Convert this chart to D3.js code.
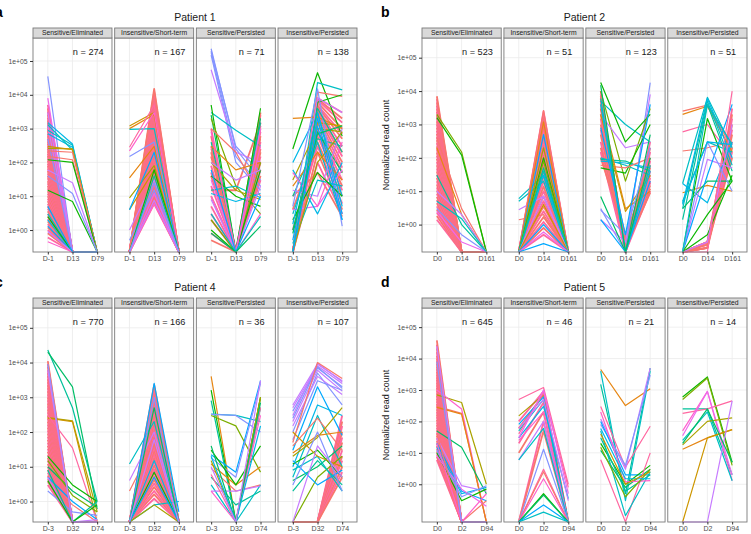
<!DOCTYPE html>
<html>
<head>
<meta charset="utf-8">
<script src="https://cdn.jsdelivr.net/npm/d3@7"></script>
<style>
  body { margin: 0; background: #fff; }
  svg { font-family: "Liberation Sans", Arial, Helvetica, sans-serif; }
</style>
</head>
<body>
<div id="chart"></div>
<script>
// ---- chart values ----
var patients = ["Patient 1", "Patient 2", "Patient 4", "Patient 5"];
var letters = ["a", "b", "c", "d"];
var groups = ["Sensitive/Eliminated", "Insensitive/Short-term", "Sensitive/Persisted", "Insensitive/Persisted"];
var timepoints = [["D-1", "D13", "D79"], ["D0", "D14", "D161"], ["D-3", "D32", "D74"], ["D0", "D2", "D94"]];
var counts = [[274, 167, 71, 138], [523, 51, 123, 51], [770, 166, 36, 107], [645, 46, 21, 14]];
var yTicks = [1, 10, 100, 1000, 10000, 100000];
// y limits of each patient's panels (zero counts sit on the lower limit)
var yLimits = [[0.224, 478600], [0.151, 389000], [0.257, 371500], [0.063, 407000]];

// clone lines: [clone colour group, t1, t2, t3]
var p1_se = [
  [11, 35000, 0, 0], [13, 8000, 0, 0], [12, 3000, 0, 0], [12, 1200, 0, 0], [11, 500, 0, 0],
  [9, 1500, 350, 0], [8, 900, 320, 0], [9, 700, 280, 0], [8, 1300, 230, 0], [3, 260, 250, 0],
  [2, 300, 240, 0], [0, 220, 200, 0], [0, 150, 120, 0], [5, 120, 100, 0], [12, 60, 25, 0],
  [5, 15, 7, 0], [11, 40, 12, 0], [9, 2, 0, 0], [10, 1.3, 0, 0], [8, 3, 0, 0],
  [5, 2.5, 0, 0], [12, 0.9, 0, 0], [14, 0.45, 0, 0], [10, 5, 0, 0]
];
var p1_se_bulk = [0.6, 0.8, 1, 1.2, 1.5, 1.8, 2.1, 2.5, 3, 3.6, 4.3, 5, 6, 7.2, 8.5, 10, 12, 14, 17, 20, 24, 28,
  34, 40, 47, 56, 66, 78, 92, 110, 130, 155, 180, 215, 255, 300, 360, 420, 500, 600, 700, 850, 1000, 1200,
  1450, 1750, 2100, 2600, 3200, 4000, 5000];

var p1_is = [
  [2, 1200, 3000, 0], [1, 1000, 2600, 0], [8, 950, 1000, 0], [15, 280, 5000, 0], [14, 220, 3000, 0],
  [11, 150, 400, 0], [1, 35, 300, 0], [3, 9, 80, 0], [2, 4, 60, 0], [10, 4, 200, 0],
  [12, 1, 30, 0], [11, 0.5, 15, 0], [5, 0, 60, 0], [7, 0, 40, 0], [13, 0, 12, 0],
  [14, 0, 6, 0], [12, 0, 7.5, 0], [11, 0, 25, 0]
];
var p1_is_bulk = [6, 7, 8.5, 10, 12, 14, 17, 20, 24, 29, 35, 42, 50, 60, 72, 86, 100, 120, 145, 175, 210, 250,
  300, 360, 430, 520, 620, 750, 900, 1080, 1300, 1550, 1850, 2200, 2700, 3200, 3900, 4700, 5600, 6800,
  8200, 10000, 12500, 15000];

var p1_sp = [
  [11, 230000, 250, 30], [11, 200000, 300, 50], [11, 180000, 150, 20], [11, 150000, 100, 15],
  [12, 55000, 200, 100], [8, 3000, 900, 300], [5, 5000, 0, 4000], [6, 2500, 0, 2000], [4, 2000, 20, 3],
  [7, 400, 0, 1500], [0, 1000, 200, 10], [1, 300, 60, 100], [0, 250, 0, 500], [3, 100, 15, 8],
  [5, 40, 10, 5], [8, 15, 20, 9], [9, 12, 7, 12], [14, 10, 0, 3], [12, 8, 0, 20], [4, 2, 0, 100],
  [5, 1, 0, 60], [13, 30, 0, 1000], [14, 800, 0, 300], [12, 100, 30, 60], [10, 60, 0, 10],
  [8, 3, 0, 2.5], [6, 0.8, 0, 1.3]
];
var p1_sp_bulk = [[1000, 0, 1500], [600, 0, 1000], [300, 0, 800], [150, 0, 600], [80, 0, 400], [40, 0, 250],
  [20, 0, 150], [10, 0, 100], [5, 0, 60], [2, 0, 40], [0.8, 0, 30], [0.5, 0, 200], [3, 0, 2500],
  [200, 0, 3000], [50, 0, 1200], [15, 15, 1500]];

var p1_ip = [
  [5, 250, 45000, 600], [8, 0, 23000, 14000], [0, 0, 12000, 9000], [5, 0, 6000, 10000],
  [1, 2000, 2200, 1000], [2, 0, 1500, 1200], [3, 30, 1000, 800], [9, 100, 3000, 10], [10, 0.5, 2000, 3],
  [8, 3, 400, 2], [7, 10, 500, 300], [6, 1, 800, 50], [1, 20, 200, 30], [12, 15, 10, 1000],
  [11, 5, 15000, 1.3], [13, 4, 5, 60], [8, 0.4, 30, 20], [9, 60, 3, 100], [14, 50, 5, 400],
  [3, 0, 100, 800], [5, 2, 50, 10], [12, 0, 8000, 3000], [9, 1.5, 3000, 5], [7, 0, 4000, 200],
  [6, 0.8, 700, 1200], [10, 0, 1200, 2]
];
var p1_ip_bulk = [[0, 8000, 3000], [0, 7500, 2000], [0, 7000, 1500], [0, 6000, 1000], [0, 5000, 700],
  [0, 4500, 500], [0, 4000, 300], [0, 3500, 200], [0, 3000, 150], [0, 2500, 100], [0, 2000, 70],
  [0, 1500, 50], [0, 1000, 30], [0, 800, 20], [0, 600, 15], [4, 400, 10], [1, 300, 6], [0, 200, 4],
  [0, 100, 3], [10, 50, 2.5]];

var p2_se = [
  [4, 2000, 150, 0], [5, 1600, 120, 0], [0, 400, 3, 0], [1, 200, 2, 0], [7, 30, 1, 0],
  [12, 10, 2, 0], [11, 3, 0.5, 0], [13, 2.5, 0.3, 0], [8, 5, 1.5, 0]
];
var p2_se_bulk = [1.4, 1.8, 2.3, 2.8, 3.5, 4.4, 5.5, 6.8, 8.5, 10.5, 13, 16, 20, 25, 31, 39, 48, 60, 75, 93,
  115, 145, 180, 220, 275, 340, 420, 520, 650, 800, 1000, 1250, 1550, 1900, 2400, 3000, 3700, 4600,
  5700, 7000];

var p2_is = [
  [8, 5, 20, 0], [8, 6, 30, 0], [12, 2.8, 7, 0], [0, 1.4, 2, 0], [0, 0, 2600, 0], [1, 0, 1200, 0],
  [10, 0, 500, 0], [3, 0, 200, 0], [5, 0, 100, 0], [4, 0, 80, 0], [8, 0, 40, 0], [9, 0, 30, 0],
  [7, 0, 50, 0], [12, 0, 7, 0], [2, 0, 4, 0], [10, 0, 1, 0], [13, 0, 0.6, 0], [10, 0, 0.27, 0]
];
var p2_is_bulk = [0.5, 0.8, 1.2, 1.7, 2.5, 3.5, 5, 7, 10, 14, 20, 28, 40, 60, 85, 120, 170, 240, 340, 480,
  680, 950, 1350, 1900, 2500];

var p2_sp = [
  [11, 3, 0, 18000], [12, 1.4, 0.3, 8000], [8, 5000, 1000, 300], [5, 18000, 300, 2000],
  [4, 10000, 20, 3000], [12, 2000, 200, 300], [7, 90, 80, 40], [8, 100, 60, 30], [9, 80, 70, 50],
  [5, 50, 35, 1000], [0, 60, 50, 100], [1, 3000, 3, 10], [2, 2000, 2.5, 30], [6, 7, 0, 500],
  [10, 1.4, 0, 20], [8, 6000, 0, 60], [9, 4000, 0, 40], [11, 2.7, 0.5, 200], [6, 15000, 0, 100],
  [10, 800, 0.5, 4000]
];
var p2_sp_bulk = [[8000, 0, 300], [6000, 0.2, 200], [5000, 0, 150], [4000, 0.3, 100], [3000, 0, 80],
  [2000, 0.2, 60], [1500, 0, 40], [1000, 0.4, 30], [700, 0, 20], [500, 0.2, 15], [300, 0, 10],
  [200, 0.3, 12], [150, 0, 25], [100, 0.5, 50], [10000, 0, 18], [7000, 0.2, 9]];

var p2_ip = [
  [0, 2500, 3800, 200], [1, 2000, 3500, 150], [15, 600, 1000, 100], [0, 160, 200, 300], [1, 9, 15, 10],
  [8, 17, 6500, 200], [9, 4, 6000, 100], [8, 3, 5000, 60], [7, 1.4, 4000, 40], [8, 5, 300, 150],
  [9, 17, 4.5, 300], [5, 0, 1500, 20], [12, 0, 90, 50], [6, 3, 20, 20], [5, 0, 0.5, 30],
  [12, 0, 0.3, 1000], [10, 0, 30, 4000], [15, 0, 0, 10000], [11, 0, 300, 10], [5, 0, 2, 20],
  [8, 0, 4000, 250], [9, 4.5, 300, 250]
];
var p2_ip_bulk = [[0, 0.2, 3000], [0, 0.3, 2000], [0, 0.2, 1500], [0, 0.3, 1000], [0, 0.25, 700],
  [0, 0.2, 500], [0, 0.3, 300], [0, 0.2, 200], [0, 0.3, 150], [0, 0.25, 100]];

var p4_se = [
  [7, 23000, 500, 1], [6, 20000, 2000, 0.6], [3, 260, 210, 0.5], [2, 250, 200, 0], [15, 300, 35, 0],
  [5, 20, 3, 1], [6, 10, 2, 0.7], [4, 15, 1.5, 0.5], [10, 5, 1, 0.3], [11, 2, 0.5, 0.4],
  [0, 3.5, 0.8, 0], [12, 5, 0, 0.3], [7, 8, 0, 1], [5, 4, 0, 0.8], [11, 9000, 0, 0], [12, 6000, 0, 0]
];
var p4_se_bulk = [3, 3.8, 4.6, 5.6, 6.8, 8.2, 10, 12, 15, 18, 22, 27, 33, 40, 49, 60, 73, 90, 110, 135, 165,
  200, 245, 300, 370, 450, 550, 670, 820, 1000, 1220, 1500, 1830, 2240, 2740, 3350, 4100, 5000, 6100,
  7500, 9100, 11000];

var p4_is = [
  [8, 12, 200, 0], [12, 4, 100, 0], [0, 2, 50, 0], [8, 0, 0.8, 1], [3, 0, 0.8, 0], [10, 0, 2500, 0.5],
  [11, 0, 1000, 0], [6, 0, 500, 0], [5, 0, 7, 0], [10, 0, 5, 0], [9, 0, 15, 0], [12, 0, 60, 0]
];
var p4_is_bulk = [1.2, 1.6, 2, 2.6, 3.3, 4.2, 5.3, 6.7, 8.5, 11, 14, 18, 23, 29, 37, 47, 60, 76, 97, 125, 160,
  200, 260, 330, 420, 540, 690, 880, 1100, 1400, 1800, 2300];

var p4_sp = [
  [1, 4000, 0, 1000], [5, 1600, 0, 1000], [7, 800, 0, 500], [8, 330, 300, 200], [11, 320, 300, 100],
  [4, 300, 150, 7], [10, 22, 7, 3000], [11, 18, 5, 2500], [1, 12, 3, 10], [0, 9, 2, 3], [5, 30, 3, 40],
  [7, 5, 0.8, 2], [8, 3, 0, 3], [12, 2, 2, 2.8], [15, 6, 0, 500], [14, 2, 0, 300], [3, 15, 0, 1000],
  [6, 40, 0, 700], [9, 20, 0, 150], [12, 10, 0, 3000]
];
var p4_sp_bulk = [];

var p4_ip = [
  [12, 600, 9000, 3000], [12, 500, 8000, 2500], [11, 400, 7000, 2000], [12, 200, 6000, 1500],
  [11, 100, 5000, 600], [12, 300, 9500, 2800], [11, 250, 7500, 1800], [12, 150, 4000, 1200],
  [11, 60, 3000, 1600], [0, 50, 10000, 3500], [10, 30, 2000, 80], [9, 10, 600, 300], [8, 5, 300, 10],
  [0, 40, 250, 30], [1, 25, 80, 100], [3, 20, 70, 500], [5, 12, 30, 5], [6, 4, 10, 40], [7, 2, 15, 3],
  [4, 0, 5, 20], [10, 15, 3, 8], [8, 8, 20, 2], [2, 100, 20, 10], [12, 0, 40, 5], [11, 3, 100, 2]
];
var p4_ip_bulk = [[0, 0, 300], [0, 0, 200], [0, 0, 150], [0, 0, 100], [0, 0, 70], [0, 0, 50], [0, 0, 30],
  [0, 0, 20], [0, 0, 15], [0, 0, 10], [0, 0, 7], [0, 0, 5]];

var p5_se = [
  [3, 700, 400, 1], [14, 1000, 250, 0], [0, 300, 180, 0], [1, 280, 170, 0], [6, 50, 15, 0.5],
  [12, 30, 0.9, 0.6], [10, 20, 0.6, 0.3], [9, 15, 0.5, 0.8], [5, 10, 0.3, 0.7], [13, 8, 0.7, 0.2],
  [11, 12, 0.4, 0.9], [0, 40, 0, 0.3], [14, 20, 0, 0.5], [12, 25000, 0, 0], [11, 8000, 0, 0]
];
var p5_se_bulk = [6, 7.5, 9, 11, 13.5, 16.5, 20, 24, 29, 35, 43, 52, 63, 77, 93, 113, 137, 167, 200, 245, 300,
  360, 440, 530, 650, 790, 960, 1170, 1420, 1730, 2100, 2550, 3100, 3800, 4600, 5600, 6800, 8300, 10000,
  12500, 16000, 21000, 28000, 38000];

var p5_is = [
  [15, 500, 1200, 1], [3, 150, 700, 0], [10, 80, 600, 0], [8, 50, 500, 0], [9, 30, 300, 0.35],
  [14, 25, 200, 0], [12, 6, 100, 0], [8, 6, 60, 0], [11, 0, 13, 0], [15, 0, 3, 0], [0, 0, 2.5, 0],
  [14, 0, 1.5, 0], [5, 0, 0.5, 0], [6, 0, 0.45, 0], [10, 0, 0.22, 0], [8, 0, 0.13, 0],
  [15, 40, 800, 0.8], [13, 30, 1000, 0.5], [12, 60, 500, 0.3]
];
var p5_is_bulk = [[100, 900, 0], [60, 700, 0], [20, 400, 0], [10, 200, 0], [0, 100, 0], [0, 50, 0]];

var p5_sp = [
  [1, 4500, 320, 1100], [7, 1500, 0.5, 5000], [8, 4000, 0.3, 4000], [15, 300, 3.5, 70],
  [12, 120, 3, 5000], [11, 80, 4, 3000], [10, 100, 2, 2], [5, 20, 1, 4], [6, 12, 0.8, 3], [15, 6, 0, 10],
  [8, 50, 0.1, 2.5], [7, 30, 0.6, 2], [14, 200, 1.2, 1.3], [4, 15, 0.4, 3], [9, 60, 1.5, 1.5],
  [2, 40, 1, 2.5]
];
var p5_sp_bulk = [];

var p5_ip = [
  [5, 600, 2600, 5], [4, 500, 2400, 4], [7, 250, 250, 2], [15, 180, 250, 450], [14, 50, 900, 1.3],
  [13, 35, 900, 2], [8, 25, 200, 1.3], [3, 18, 100, 130], [1, 13, 30, 55], [2, 0, 30, 55],
  [12, 0, 0, 450], [6, 20, 250, 5]
];
var p5_ip_bulk = [];

// ---- build the facet tables ----
// bulk rows are the dense pink masses; flagged so they can be drawn a bit heavier
var pinks = [15, 0];
function bulkAt(vals, pos) {
  return vals.map(function(v, i) {
    var row = [pinks[i % 2], 0, 0, 0];
    row[pos + 1] = v;
    row.bulk = true;
    return row;
  });
}
function bulkRows(rows) {
  return rows.map(function(r, i) {
    var row = [pinks[i % 2]].concat(r);
    row.bulk = true;
    return row;
  });
}

var facets = [
  [bulkAt(p1_se_bulk, 0).concat(p1_se), bulkAt(p1_is_bulk, 1).concat(p1_is),
   bulkRows(p1_sp_bulk).concat(p1_sp), bulkRows(p1_ip_bulk).concat(p1_ip)],
  [bulkAt(p2_se_bulk, 0).concat(p2_se), bulkAt(p2_is_bulk, 1).concat(p2_is),
   bulkRows(p2_sp_bulk).concat(p2_sp), bulkRows(p2_ip_bulk).concat(p2_ip)],
  [bulkAt(p4_se_bulk, 0).concat(p4_se), bulkAt(p4_is_bulk, 1).concat(p4_is),
   bulkRows(p4_sp_bulk).concat(p4_sp), bulkRows(p4_ip_bulk).concat(p4_ip)],
  [bulkAt(p5_se_bulk, 0).concat(p5_se), bulkRows(p5_is_bulk).concat(p5_is),
   bulkRows(p5_sp_bulk).concat(p5_sp), bulkRows(p5_ip_bulk).concat(p5_ip)]
];

// ggplot hue palette
var palette = ["#F8766D", "#E68613", "#CD9600", "#ABA300", "#7CAE00", "#0CB702", "#00BE67", "#00C19A",
  "#00BFC4", "#00B8E7", "#00A9FF", "#8494FF", "#C77CFF", "#ED68ED", "#FF61CC", "#FF68A1"];
var colour = d3.scaleOrdinal().domain(d3.range(16)).range(palette);

// ---- layout ----
var width = 751, height = 534;
var cols = [{ x0: 33, x1: 357 }, { x0: 422, x1: 747 }];
var rows = [{ top: 28, bottom: 252 }, { top: 298, bottom: 522 }];
var stripH = 10, gap = 2.7;

var svg = d3.select("#chart").append("svg")
  .attr("width", width)
  .attr("height", height);

function fmtSci(d) {
  var e = Math.round(Math.log10(d));
  return "1e" + (e < 0 ? "-" : "+") + String(Math.abs(e)).padStart(2, "0");
}

patients.forEach(function(name, i) {
  var c = cols[i % 2], r = rows[Math.floor(i / 2)];
  var fw = (c.x1 - c.x0 - 3 * gap) / 4;
  var lo = yLimits[i][0];
  var y = d3.scaleLog().domain(yLimits[i]).range([r.bottom, r.top + stripH]);
  var x = d3.scalePoint().domain(timepoints[i]).range([0, fw]).padding(0.6);

  var line = d3.line()
    .x(function(d, k) { return x(timepoints[i][k]); })
    .y(function(v) { return y(Math.max(v, lo)); });

  groups.forEach(function(grp, j) {
    var fx = c.x0 + j * (fw + gap);
    var g = svg.append("g").attr("transform", "translate(" + fx + ",0)");
    var clipId = "clip-" + i + "-" + j;

    g.append("clipPath").attr("id", clipId)
      .append("rect")
      .attr("x", 0).attr("y", r.top + stripH)
      .attr("width", fw).attr("height", r.bottom - r.top - stripH + 1);

    g.append("rect")
      .attr("x", 0).attr("y", r.top + stripH)
      .attr("width", fw).attr("height", r.bottom - r.top - stripH)
      .attr("fill", "#fff");

    // grid
    g.selectAll(".hgrid").data(yTicks).enter().append("line")
      .attr("x1", 0).attr("x2", fw)
      .attr("y1", function(d) { return y(d); }).attr("y2", function(d) { return y(d); })
      .attr("stroke", "#EBEBEB").attr("stroke-width", 0.8);
    g.selectAll(".vgrid").data(timepoints[i]).enter().append("line")
      .attr("x1", function(d) { return x(d); }).attr("x2", function(d) { return x(d); })
      .attr("y1", r.top + stripH).attr("y2", r.bottom)
      .attr("stroke", "#EBEBEB").attr("stroke-width", 0.8);

    // clone lines
    g.append("g").attr("clip-path", "url(#" + clipId + ")")
      .selectAll("path").data(facets[i][j]).enter().append("path")
      .attr("d", function(d) { return line(d.slice(1)); })
      .attr("fill", "none")
      .attr("stroke", function(d) { return colour(d[0]); })
      .attr("stroke-width", function(d) { return d.bulk ? 1.8 : 1.2; })
      .attr("stroke-linejoin", "round");

    // panel border
    g.append("rect")
      .attr("x", 0).attr("y", r.top + stripH)
      .attr("width", fw).attr("height", r.bottom - r.top - stripH)
      .attr("fill", "none").attr("stroke", "#7A7A7A").attr("stroke-width", 0.9);

    // strip
    g.append("rect")
      .attr("x", 0).attr("y", r.top)
      .attr("width", fw).attr("height", stripH)
      .attr("fill", "#D9D9D9").attr("stroke", "#7A7A7A").attr("stroke-width", 0.9);
    g.append("text")
      .attr("x", fw / 2).attr("y", r.top + stripH / 2 + 2.4)
      .attr("text-anchor", "middle")
      .attr("font-size", "6.8px")
      .attr("fill", "#1A1A1A")
      .text(grp);

    // clone count
    g.append("text")
      .attr("x", fw * 0.70).attr("y", r.top + stripH + 16.5)
      .attr("text-anchor", "middle")
      .attr("font-size", "9.2px")
      .attr("fill", "#1A1A1A")
      .text("n = " + counts[i][j]);

    // x axis
    var xAxis = g.append("g")
      .attr("transform", "translate(0," + r.bottom + ")")
      .call(d3.axisBottom(x).tickSize(2.5).tickPadding(2));
    xAxis.select(".domain").remove();
    xAxis.selectAll("line").attr("stroke", "#333");
    xAxis.selectAll("text").attr("font-size", "7px").attr("fill", "#4D4D4D")
      .attr("font-family", "'Liberation Sans', Arial, sans-serif");
  });

  // y axis
  var yAxis = svg.append("g")
    .attr("transform", "translate(" + c.x0 + ",0)")
    .call(d3.axisLeft(y).tickValues(yTicks).tickFormat(fmtSci).tickSize(3).tickPadding(2.5));
  yAxis.select(".domain").remove();
  yAxis.selectAll("line").attr("stroke", "#333");
  yAxis.selectAll("text").attr("font-size", "6.8px").attr("fill", "#4D4D4D")
    .attr("font-family", "'Liberation Sans', Arial, sans-serif");

  // title
  svg.append("text")
    .attr("x", (c.x0 + c.x1) / 2).attr("y", r.top - 7)
    .attr("text-anchor", "middle")
    .attr("font-size", "10.5px")
    .attr("fill", "#1A1A1A")
    .text(name);

  // y axis title on the right column
  if (i % 2 === 1) {
    svg.append("text")
      .attr("transform", "translate(389," + ((r.top + stripH + r.bottom) / 2) + ") rotate(-90)")
      .attr("text-anchor", "middle")
      .attr("font-size", "9px")
      .attr("fill", "#1A1A1A")
      .text("Normalized read count");
  }

  // panel letter (the left ones sit partly off the page, as in the figure)
  svg.append("text")
    .attr("x", i % 2 === 0 ? -5 : 381).attr("y", r.top - 11)
    .attr("font-size", "14px")
    .attr("font-weight", "bold")
    .attr("fill", "#000")
    .text(letters[i]);
});
</script>
</body>
</html>
